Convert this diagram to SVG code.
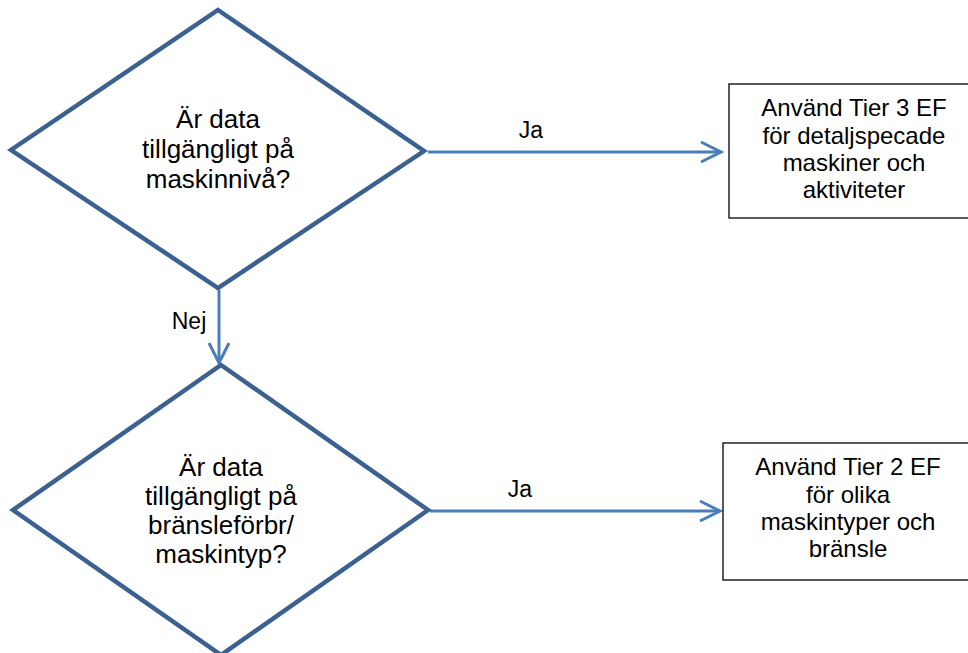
<svg xmlns="http://www.w3.org/2000/svg" width="968" height="653" viewBox="0 0 968 653">
<style>
.dia{fill:#fff;stroke:#3b6191;stroke-width:4.5;stroke-linejoin:miter}
.box{fill:#fff;stroke:#000;stroke-width:1.3}
.t{font-family:"Liberation Sans",Arial,sans-serif;font-size:26px;fill:#000;text-anchor:middle}
.bt{font-family:"Liberation Sans",Arial,sans-serif;font-size:24px;fill:#000;text-anchor:middle}
.lbl{font-family:"Liberation Sans",Arial,sans-serif;font-size:23px;fill:#000;text-anchor:middle}
.con{stroke:#4a7ebb;stroke-width:3;fill:none}
</style>
<defs>
<marker id="arr" markerUnits="userSpaceOnUse" markerWidth="30" markerHeight="30" refX="22" refY="12" orient="auto" viewBox="0 0 30 24">
<path d="M2,2 L22,12 L2,22" fill="none" stroke="#4a7ebb" stroke-width="3"/>
</marker>
</defs>
<g id="connectors">
<line class="con" x1="428" y1="152" x2="721" y2="152" marker-end="url(#arr)"/>
<line class="con" x1="219" y1="290" x2="219" y2="363" marker-end="url(#arr)"/>
<line class="con" x1="430" y1="511" x2="720" y2="511" marker-end="url(#arr)"/>
<text class="lbl" x="531" y="138">Ja</text>
<text class="lbl" x="520" y="497">Ja</text>
<text class="lbl" x="189" y="329">Nej</text>
</g>
<g id="d1">
<polygon class="dia" points="218,10 424,151 218,288 11,150"/>
<text class="t" x="218" y="128">Är data</text>
<text class="t" x="218" y="158">tillgängligt på</text>
<text class="t" x="218" y="188">maskinnivå?</text>
</g>
<g id="d2">
<polygon class="dia" points="221,365 428,510 221,655 13,510"/>
<text class="t" x="221" y="476">Är data</text>
<text class="t" x="221" y="505">tillgängligt på</text>
<text class="t" x="221" y="534">bränsleförbr/</text>
<text class="t" x="221" y="563">maskintyp?</text>
</g>
<g id="b1">
<rect class="box" x="729" y="84" width="250" height="134"/>
<text class="bt" x="854" y="116">Använd Tier 3 EF</text>
<text class="bt" x="854" y="144">för detaljspecade</text>
<text class="bt" x="854" y="171">maskiner och</text>
<text class="bt" x="854" y="198">aktiviteter</text>
</g>
<g id="b2">
<rect class="box" x="723" y="443" width="250" height="137"/>
<text class="bt" x="848" y="475">Använd Tier 2 EF</text>
<text class="bt" x="848" y="503">för olika</text>
<text class="bt" x="848" y="530">maskintyper och</text>
<text class="bt" x="848" y="557">bränsle</text>
</g>
</svg>
